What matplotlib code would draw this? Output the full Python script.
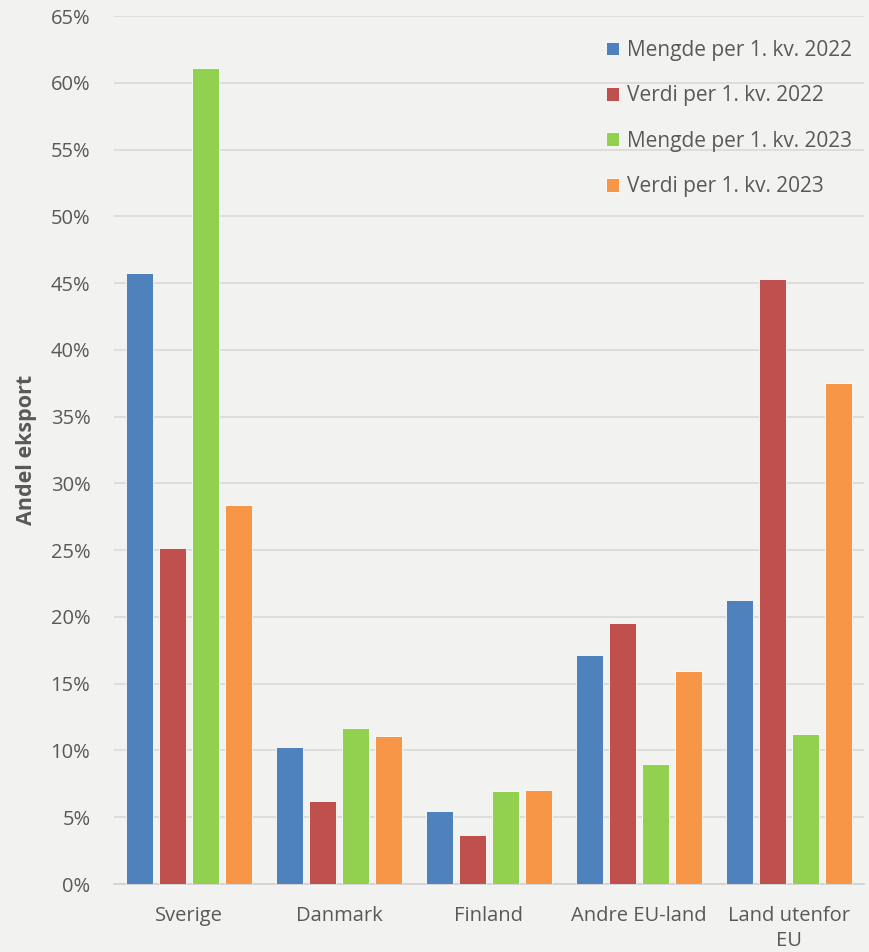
import matplotlib
matplotlib.use("Agg")
import matplotlib.pyplot as plt
import numpy as np
from matplotlib.ticker import FuncFormatter, MultipleLocator

categories = ["Sverige", "Danmark", "Finland", "Andre EU-land", "Land utenfor\nEU"]
series_names = ["Mengde per 1. kv. 2022", "Verdi per 1. kv. 2022",
                "Mengde per 1. kv. 2023", "Verdi per 1. kv. 2023"]
mengde_2022 = [45.75, 10.26, 5.47, 17.15, 21.27]
verdi_2022 = [25.16, 6.20, 3.67, 19.54, 45.30]
mengde_2023 = [61.10, 11.68, 6.96, 8.99, 11.23]
verdi_2023 = [28.38, 11.08, 7.04, 15.95, 37.50]
colors = ["#4f81bd", "#c0504d", "#92d050", "#f79646"]

plt.rcParams['font.family'] = ['Open Sans', 'DejaVu Sans']
bg = "#f2f2f0"
fig = plt.figure(figsize=(8.69, 9.52), dpi=100, facecolor=bg)
ax = fig.add_axes([114/869, 1-884/952, 750/869, 868/952], facecolor=bg)

x = np.arange(len(categories))
width = 0.178
step = 0.22
data = [mengde_2022, verdi_2022, mengde_2023, verdi_2023]
for i, (vals, name, c) in enumerate(zip(data, series_names, colors)):
    ax.bar(x + (i - 1.5) * step, vals, width, color=c, label=name,
           edgecolor="white", linewidth=0.6, zorder=3)

ax.set_xlim(-0.5, len(categories) - 0.5)
ax.set_ylim(0, 65)
ax.yaxis.set_major_locator(MultipleLocator(5))
ax.yaxis.set_major_formatter(FuncFormatter(lambda v, p: f"{int(round(v))}%"))
ax.grid(axis="y", color="#d9d9d9", linewidth=1.2, zorder=0)
ax.set_axisbelow(True)
for s in ["top", "right", "left"]:
    ax.spines[s].set_visible(False)
ax.spines["bottom"].set_color("#d0d0d0")
ax.spines["bottom"].set_linewidth(1.2)
ax.set_xticks(x)
ax.set_xticklabels(categories, fontsize=14.5, color="#595959", linespacing=1.35)
ax.tick_params(axis="both", length=0, colors="#595959")
ax.tick_params(axis="y", labelsize=14.5, pad=17)
ax.tick_params(axis="x", labelsize=14.5, pad=16)
ax.set_ylabel("Andel eksport", fontsize=15.5, fontweight="bold", color="#595959", labelpad=10)

leg = ax.legend(loc="upper right", frameon=False, fontsize=15, labelspacing=1.17,
                handlelength=0.65, handleheight=0.65, handletextpad=0.35,
                borderaxespad=0.2, bbox_to_anchor=(1.0, 0.987))
for t in leg.get_texts():
    t.set_color("#595959")

fig.savefig("out.png", dpi=100, facecolor=bg)
